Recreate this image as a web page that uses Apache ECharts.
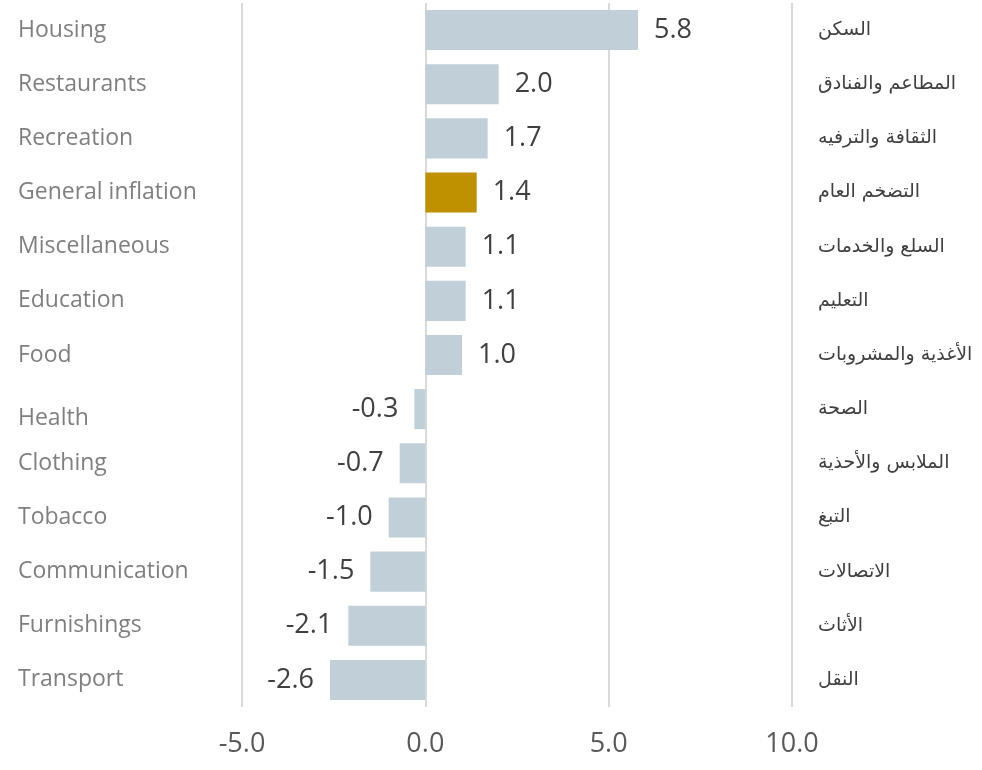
<!DOCTYPE html>
<html>
<head>
<meta charset="utf-8">
<script src="https://cdn.jsdelivr.net/npm/echarts@6/dist/echarts.min.js"></script>
<style>
  html, body { margin: 0; padding: 0; background: #fff; }
  #chart { width: 982px; height: 770px; }
</style>
</head>
<body>
<div id="chart"></div>
<script>
var labelsEn = ['Housing', 'Restaurants', 'Recreation', 'General inflation', 'Miscellaneous',
    'Education', 'Food', 'Health', 'Clothing', 'Tobacco', 'Communication', 'Furnishings', 'Transport'];
var labelsAr = ['السكن', 'المطاعم والفنادق', 'الثقافة والترفيه', 'التضخم العام', 'السلع والخدمات',
    'التعليم', 'الأغذية والمشروبات', 'الصحة', 'الملابس والأحذية', 'التبغ', 'الاتصالات', 'الأثاث', 'النقل'];
var values = [5.8, 2.0, 1.7, 1.4, 1.1, 1.1, 1.0, -0.3, -0.7, -1.0, -1.5, -2.1, -2.6];
var highlight = 'General inflation';

var myChart = echarts.init(document.getElementById('chart'));

var barData = values.map(function (v, i) {
    return {
        value: v,
        itemStyle: { color: labelsEn[i] === highlight ? '#bf9000' : '#c1cfd8' },
        label: { position: v < 0 ? 'left' : 'right' }
    };
});

option = {
    backgroundColor: '#ffffff',
    animation: false,
    grid: { left: 242, right: 190, top: 3, bottom: 63, outerBoundsMode: 'none', containLabel: false },
    xAxis: {
        type: 'value',
        min: -5,
        max: 10,
        interval: 5,
        axisLine: { show: false },
        axisTick: { show: false },
        splitLine: { lineStyle: { color: '#d9d9d9', width: 2 } },
        axisLabel: {
            margin: 24,
            fontSize: 27,
            color: '#595959',
            fontFamily: 'Open Sans',
            formatter: function (v) { return v.toFixed(1); }
        }
    },
    yAxis: [
        {
            type: 'category',
            data: labelsEn,
            inverse: true,
            position: 'left',
            axisLine: { show: false },
            axisTick: { show: false },
            axisLabel: {
                align: 'left',
                margin: 224,
                fontSize: 23,
                color: '#7f7f7f',
                fontFamily: 'Open Sans',
                formatter: function (v) { return v === 'Health' ? '{low|' + v + '}' : v; },
                rich: {
                    low: { fontSize: 23, color: '#7f7f7f', fontFamily: 'Open Sans', padding: [18, 0, 0, 0] }
                }
            }
        },
        {
            type: 'category',
            data: labelsAr,
            inverse: true,
            position: 'right',
            axisLine: { show: false },
            axisTick: { show: false },
            axisLabel: {
                align: 'left',
                margin: 26,
                fontSize: 19,
                color: '#404040',
                fontFamily: 'DejaVu Sans'
            }
        }
    ],
    series: [
        {
            type: 'bar',
            yAxisIndex: 0,
            barWidth: '74%',
            data: barData,
            label: {
                show: true,
                distance: 16,
                fontSize: 27,
                color: '#404040',
                fontFamily: 'Open Sans',
                formatter: function (p) { return p.value.toFixed(1); }
            }
        }
    ]
};
myChart.setOption(option);
</script>
</body>
</html>
